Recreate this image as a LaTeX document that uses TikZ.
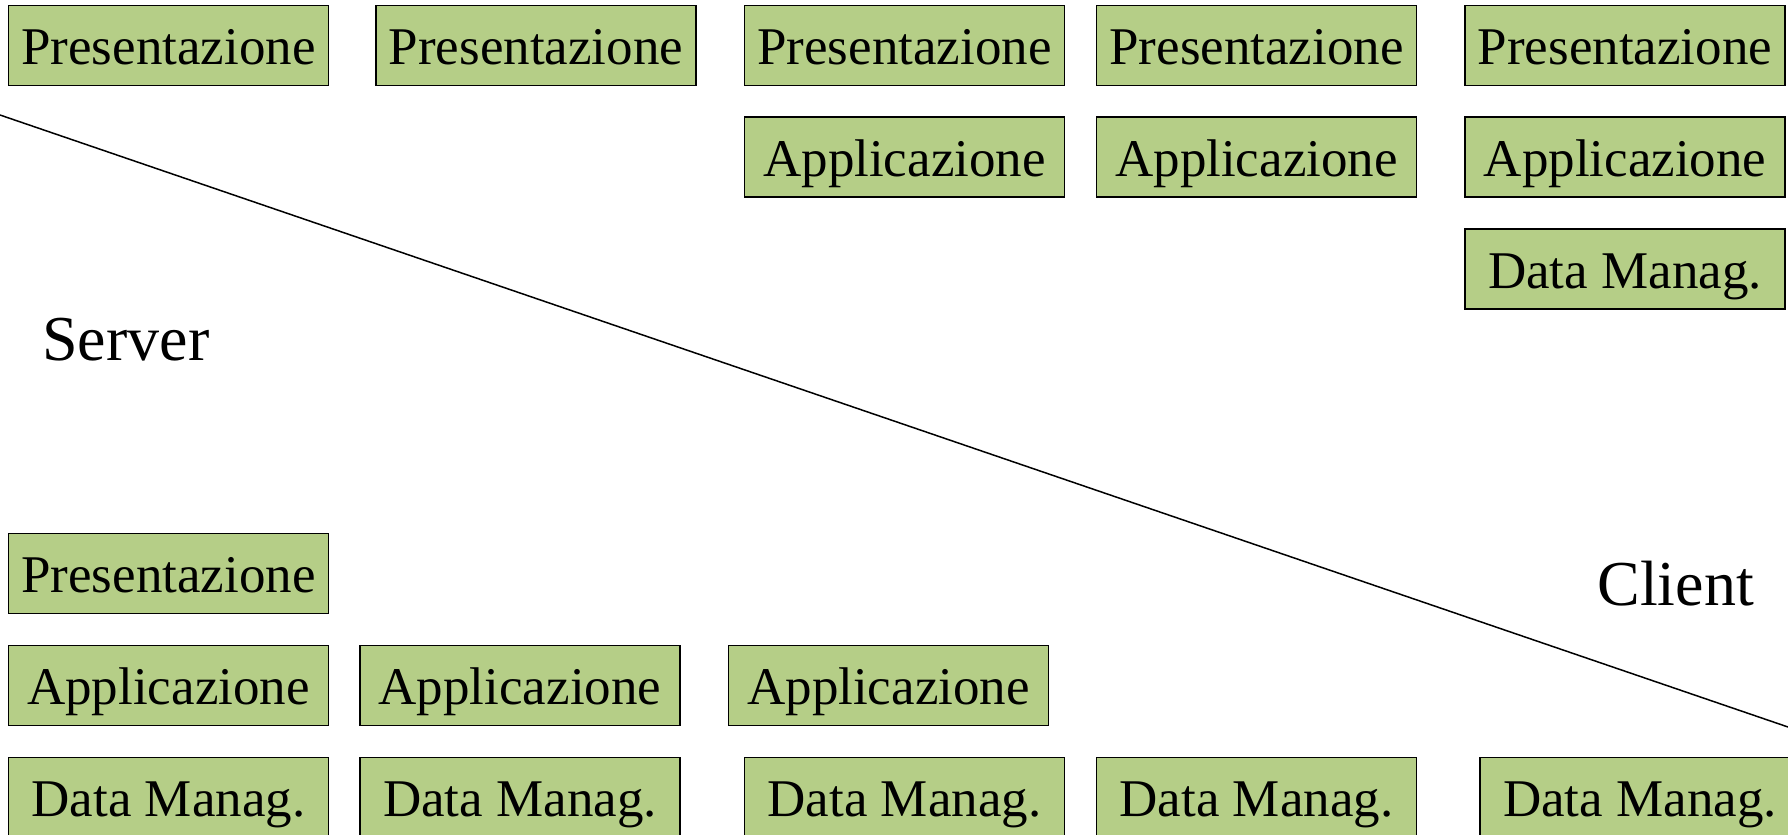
\documentclass[tikz,border=0pt]{standalone}
\usepackage{fontspec}
\setmainfont{Liberation Serif}
\usepackage{tikz}
\usetikzlibrary{positioning}
\definecolor{layergreen}{HTML}{B5CE87}

\tikzset{
  layer/.style={draw=black, line width=0.7pt, fill=layergreen, minimum width=160pt, minimum height=40pt,
    inner sep=0pt, text height=19pt, text depth=0pt, font=\fontsize{26.5}{30}\selectfont},
  side/.style={font=\fontsize{32}{36}\selectfont, anchor=base west, inner sep=0pt}
}

\begin{document}
\begin{tikzpicture}[x=0.5pt, y=-0.5pt]
\useasboundingbox (0,0) rectangle (1788,835);
% top row: presentation on every client
\foreach \x [count=\i] in {168.5,536,904.5,1256.5,1625}{ \node[layer] (tp\i) at (\x,45.5) {Presentazione}; }
\foreach \x [count=\i] in {904.5,1256.5,1625}{ \node[layer] (ta\i) at (\x,157) {Applicazione}; }
\node[layer] (td1) at (1625,269) {Data Manag.};
% bottom rows: what stays on the server
\node[layer] (bp1) at (168.5,573.5) {Presentazione};
\foreach \x [count=\i] in {168.5,520,888.5}{ \node[layer] (ba\i) at (\x,685.5) {Applicazione}; }
\foreach \x [count=\i] in {168.5,520,904.5,1256.5,1640}{ \node[layer] (bd\i) at (\x,797.5) {Data Manag.}; }
% dividing line
\coordinate (cutl) at (0,115);
\coordinate (cutr) at (1788,727);
\draw[line width=0.75pt] (cutl) -- (cutr);
\node[side] (server) at (42,360) {Server};
\node[side] (client) at (1597,605) {Client};
\end{tikzpicture}
\end{document}
